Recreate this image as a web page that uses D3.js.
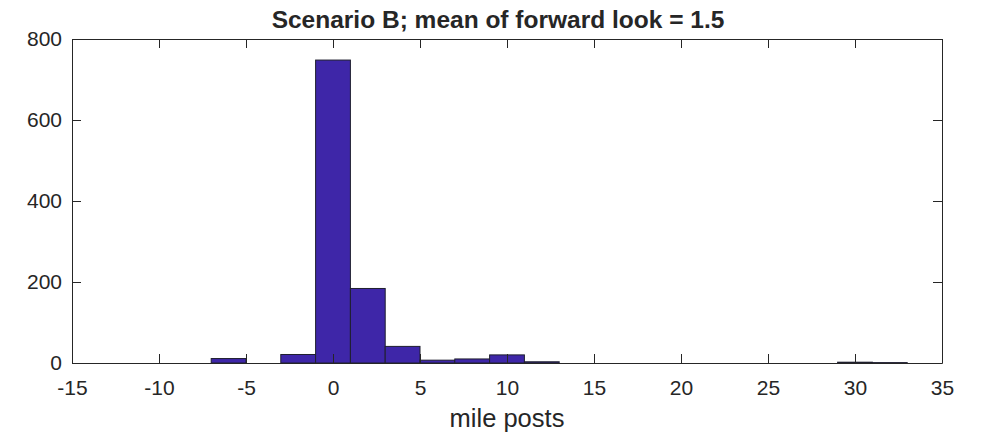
<!DOCTYPE html>
<html>
<head>
<meta charset="utf-8">
<script src="https://cdn.jsdelivr.net/npm/d3@7"></script>
<style>
  body { margin: 0; background: #fff; }
  svg text { font-family: "Liberation Sans", Arial, sans-serif; fill: #262626; }
</style>
</head>
<body>
<svg id="svg_hist" width="982" height="437"></svg>
<script>

// data: histogram bins (width 2) and counts
const binEdges = [-15, -13, -11, -9, -7, -5, -3, -1, 1, 3, 5, 7, 9, 11, 13, 15, 17, 19, 21, 23, 25, 27, 29, 31, 33];
const counts   = [0, 0, 0, 0, 11, 0, 21, 748, 184, 41, 7, 10, 20, 3, 0, 0, 0, 0, 0, 0, 0, 0, 2, 1];
const xTicks = [-15, -10, -5, 0, 5, 10, 15, 20, 25, 30, 35];
const yTicks = [0, 200, 400, 600, 800];

const svg = d3.select('#svg_hist');
const width = 982, height = 437,
  padLeft = 72, padRight = 40, padTop = 39, padBottom = 74;
const innerWidth = width - padLeft - padRight;
const innerHeight = height - padTop - padBottom;

const bins = counts.map((c, i) => ({ x0: binEdges[i], x1: binEdges[i + 1], n: c }));

const x = d3.scaleLinear().domain([-15, 35]).range([0, innerWidth]);
const y = d3.scaleLinear().domain([0, 800]).range([innerHeight, 0]);

const g = svg.append('g').attr('transform', `translate(${padLeft},${padTop})`);

// bars (zero bins are skipped, they only show as the baseline)
g.selectAll('.bar').data(bins.filter(d => d.n > 0))
  .join('rect')
  .attr('class', 'bar')
  .attr('x', d => x(d.x0))
  .attr('y', d => y(d.n))
  .attr('width', d => x(d.x1) - x(d.x0))
  .attr('height', d => y(0) - y(d.n))
  .attr('fill', '#3e26a8')
  .attr('stroke', '#1f1f2e')
  .attr('stroke-width', 1);

// axes, MATLAB style: ticks inside, on all four sides
const tickColor = '#262626';
const fmt = d => String(d); // plain hyphen, like the original
const xAxisB = d3.axisBottom(x).tickValues(xTicks).tickFormat(fmt).tickSizeInner(-9).tickSizeOuter(0).tickPadding(17);
const xAxisT = d3.axisTop(x).tickValues(xTicks).tickSizeInner(-9).tickSizeOuter(0).tickFormat('');
const yAxisL = d3.axisLeft(y).tickValues(yTicks).tickFormat(fmt).tickSizeInner(-9).tickSizeOuter(0).tickPadding(10);
const yAxisR = d3.axisRight(y).tickValues(yTicks).tickSizeInner(-9).tickSizeOuter(0).tickFormat('');

const gx = g.append('g').attr('transform', `translate(0,${innerHeight})`).call(xAxisB);
g.append('g').call(xAxisT);
const gy = g.append('g').call(yAxisL);
g.append('g').attr('transform', `translate(${innerWidth},0)`).call(yAxisR);

g.selectAll('g').attr('font-size', 21).attr('font-family', '"Liberation Sans", Arial, sans-serif');
g.selectAll('.domain, .tick line').attr('stroke', tickColor).attr('stroke-width', 1);
g.selectAll('.tick text').attr('fill', tickColor);
gx.selectAll('.tick text').attr('dy', '0.71em');

// title
svg.append('text')
  .attr('x', padLeft + innerWidth / 2 - 9)
  .attr('y', 28)
  .attr('text-anchor', 'middle')
  .attr('font-size', 24.5)
  .attr('font-weight', 'bold')
  .text('Scenario B; mean of forward look = 1.5');

// x label
svg.append('text')
  .attr('x', padLeft + innerWidth / 2)
  .attr('y', 427)
  .attr('text-anchor', 'middle')
  .attr('font-size', 25.5)
  .text('mile posts');

</script>
</body>
</html>
